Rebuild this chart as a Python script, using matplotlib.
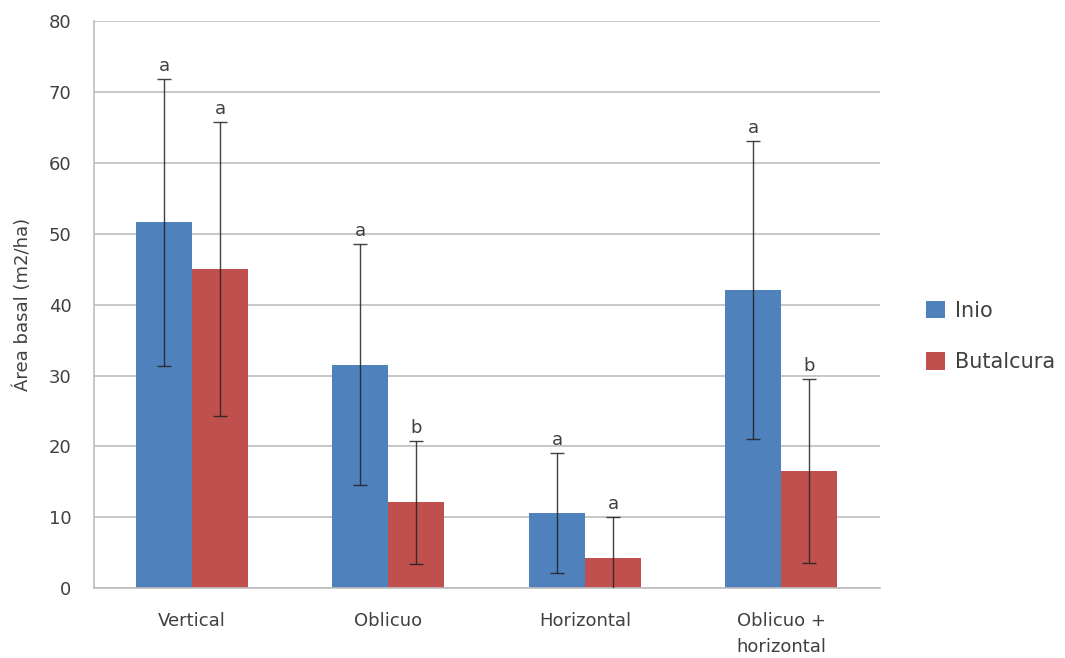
import numpy as np
import matplotlib.pyplot as plt

# --- datos ---
categorias = ["Vertical", "Oblicuo", "Horizontal", "Oblicuo +\nhorizontal"]
inio = [51.6, 31.5, 10.6, 42.1]
inio_err = [20.2, 17.0, 8.5, 21.0]
butalcura = [45.0, 12.1, 4.2, 16.5]
butalcura_err = [20.7, 8.7, 5.8, 13.0]
letras_inio = ["a", "a", "a", "a"]
letras_butalcura = ["a", "b", "a", "b"]

azul = "#4F81BD"
rojo = "#C0504D"
gris_txt = "#404040"

fig = plt.figure(figsize=(10.65, 6.58), dpi=100)
ax = fig.add_axes([0.088, 0.106, 0.738, 0.862])

x = np.arange(len(categorias))
w = 0.285

b1 = ax.bar(x - w / 2, inio, w, color=azul, label="Inio", zorder=2)
b2 = ax.bar(x + w / 2, butalcura, w, color=rojo, label="Butalcura", zorder=2)
ax.errorbar(x - w / 2, inio, yerr=inio_err, fmt="none", ecolor="#222222",
            elinewidth=1, capsize=5, capthick=1, alpha=0.85, zorder=3)
ax.errorbar(x + w / 2, butalcura, yerr=butalcura_err, fmt="none", ecolor="#222222",
            elinewidth=1, capsize=5, capthick=1, alpha=0.85, zorder=3)

# letras de significancia
for xi, v, e, l in zip(x - w / 2, inio, inio_err, letras_inio):
    ax.annotate(l, (xi, v + e), xytext=(0, 3), textcoords="offset points",
                ha="center", va="bottom", fontsize=13, color=gris_txt)
for xi, v, e, l in zip(x + w / 2, butalcura, butalcura_err, letras_butalcura):
    ax.annotate(l, (xi, v + e), xytext=(0, 3), textcoords="offset points",
                ha="center", va="bottom", fontsize=13, color=gris_txt)

ax.set_xlim(-0.5, len(categorias) - 0.5)
ax.set_ylim(0, 80)
ax.set_yticks(range(0, 81, 10))
ax.set_xticks(x)
ax.set_xticklabels(categorias, fontsize=13, color=gris_txt, linespacing=1.6)
ax.tick_params(axis="y", labelsize=13, labelcolor=gris_txt, length=0, pad=16)
ax.tick_params(axis="x", length=0, pad=17)
ax.yaxis.grid(True, color="#BEBEBE", linewidth=1.2, zorder=0)
ax.set_axisbelow(True)
for s in ["top", "right"]:
    ax.spines[s].set_visible(False)
for s in ["left", "bottom"]:
    ax.spines[s].set_color("#BEBEBE")
    ax.spines[s].set_linewidth(1.2)

ax.set_ylabel("Área basal (m2/ha)", fontsize=13, color=gris_txt, labelpad=12)

ax.legend(loc="center left", bbox_to_anchor=(1.035, 0.444), frameon=False,
          fontsize=15, handlelength=0.9, handleheight=0.9, labelspacing=1.5,
          handletextpad=0.5, labelcolor=gris_txt)

plt.savefig("out.png", dpi=100)
